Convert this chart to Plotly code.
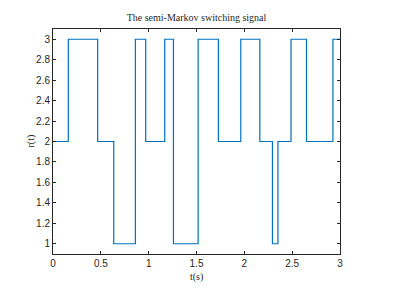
import plotly.graph_objects as go

# switching instants (s) and the mode held from each instant
switch_times = [0, 0.16, 0.467, 0.635, 0.861, 0.969, 1.168, 1.259, 1.517,
                1.729, 1.963, 2.162, 2.294, 2.351, 2.488, 2.65, 2.926, 3.0]
modes = [2, 3, 2, 1, 3, 2, 3, 1, 3, 2, 3, 2, 1, 2, 3, 2, 3, 3]

x_ticks = [0, 0.5, 1, 1.5, 2, 2.5, 3]
x_tick_labels = ["0", "0.5", "1", "1.5", "2", "2.5", "3"]
y_ticks = [1, 1.2, 1.4, 1.6, 1.8, 2, 2.2, 2.4, 2.6, 2.8, 3]
y_tick_labels = ["1", "1.2", "1.4", "1.6", "1.8", "2", "2.2", "2.4", "2.6", "2.8", "3"]

fig = go.Figure()
fig.add_trace(go.Scatter(x=switch_times, y=modes, mode="lines",
                         line=dict(shape="hv", color="#0072BD", width=1.2),
                         showlegend=False, hoverinfo="skip"))

serif = dict(family="Liberation Serif, Times New Roman", size=10, color="#262626")

axis_common = dict(showline=True, linecolor="#262626", linewidth=1, mirror="ticks",
                   ticks="inside", ticklen=3, tickcolor="#262626", showgrid=False,
                   zeroline=False, automargin=False,
                   tickfont=dict(family="Liberation Sans, Arial", size=10, color="#262626"))

# page body has an 8px margin, so the figure is offset by 8px
fig.update_layout(
    width=395, height=285,
    paper_bgcolor="white", plot_bgcolor="white",
    margin=dict(l=45, r=63, t=21, b=39),
    title=dict(text="The semi-Markov switching signal", x=0.5, xanchor="center", xref="paper",
               y=1 - 9 / 285, yanchor="middle", font=serif),
    xaxis=dict(range=[0, 3], tickvals=x_ticks, ticktext=x_tick_labels, **axis_common),
    yaxis=dict(range=[0.9, 3.1], tickvals=y_ticks, ticktext=y_tick_labels, **axis_common),
    annotations=[
        dict(text="r(t)", textangle=-90, xref="paper", yref="paper", x=0, y=0.5,
             xanchor="center", yanchor="middle", xshift=-23, showarrow=False, font=serif),
        dict(text="t(s)", xref="paper", yref="paper", x=0.5, y=0,
             xanchor="center", yanchor="middle", yshift=-23, showarrow=False, font=serif),
    ],
)

fig.write_html("out.html")
